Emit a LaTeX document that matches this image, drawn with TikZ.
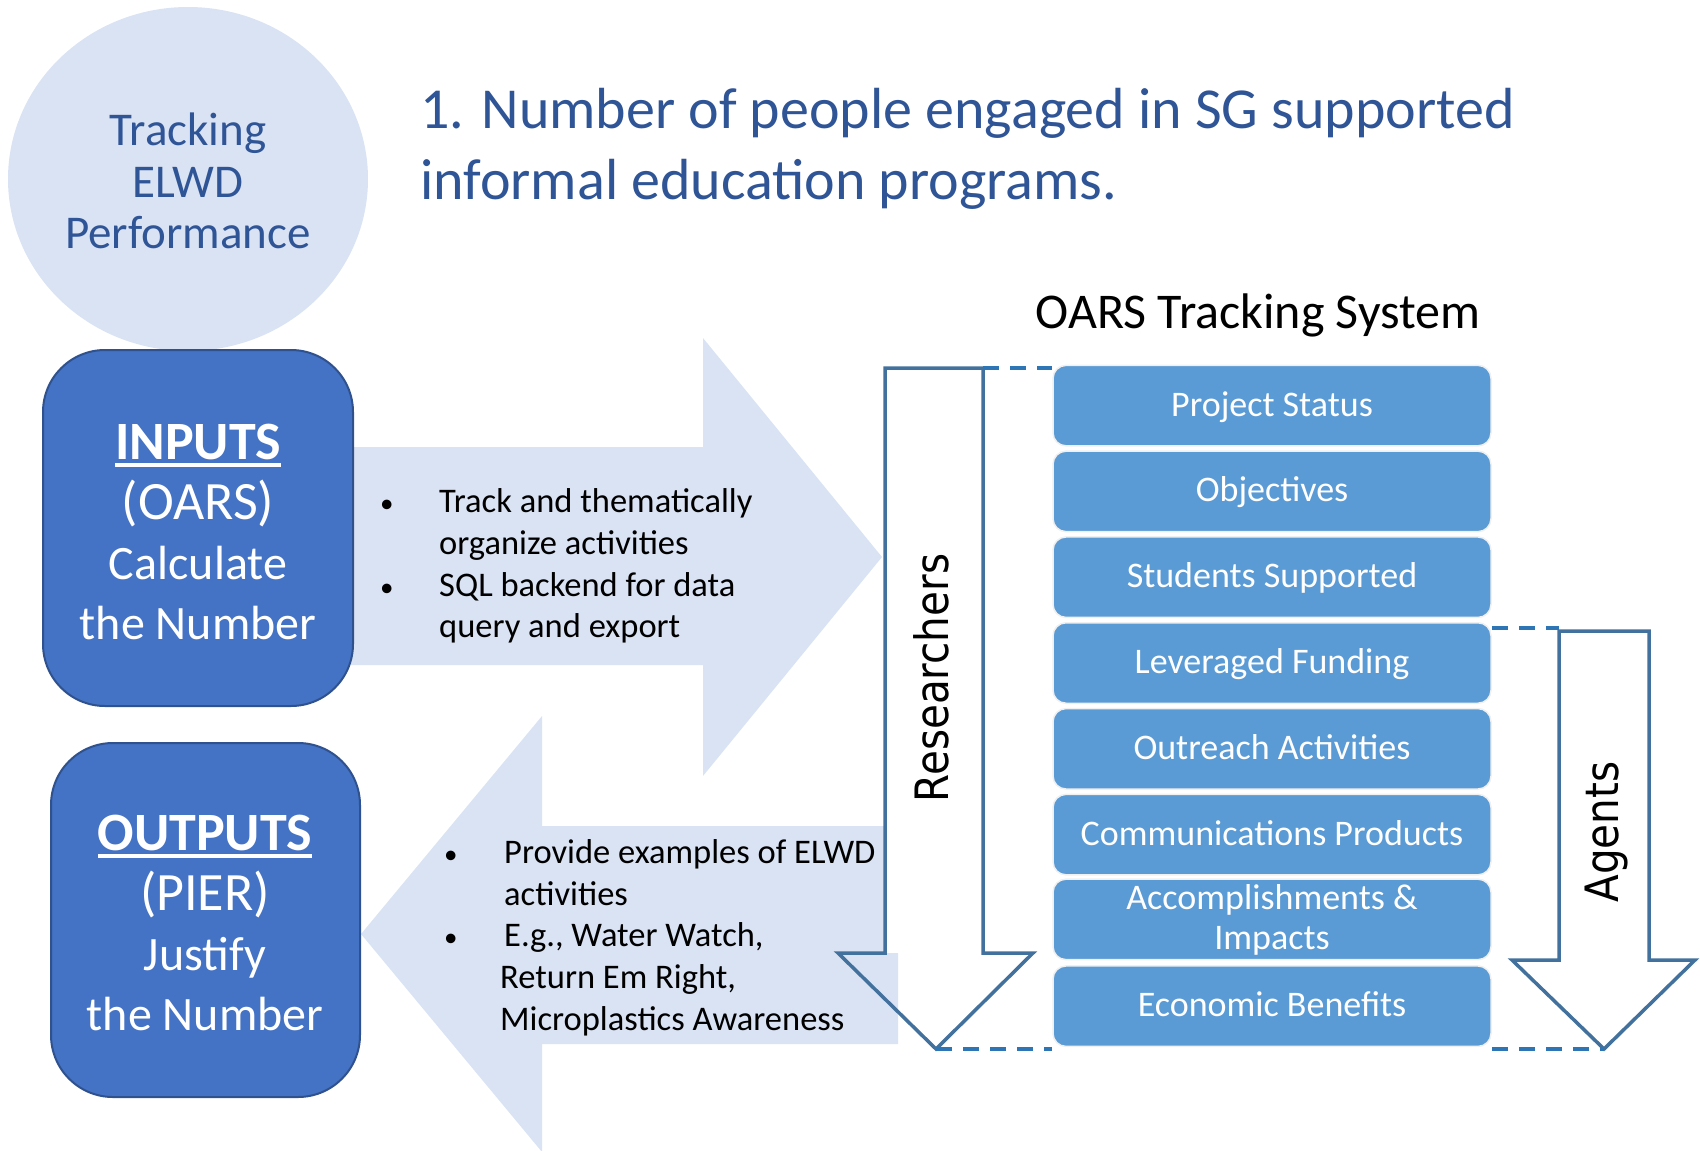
\documentclass[tikz,border=0pt]{standalone}
\usepackage{fontspec}
\setmainfont{Carlito}
\newfontfamily\vertfont[FakeStretch=0.88]{DejaVu Sans}
\definecolor{lightblue}{HTML}{DAE3F3}
\definecolor{titleblue}{HTML}{2F5597}
\definecolor{boxblue}{HTML}{4472C4}
\definecolor{boxedge}{HTML}{2F528F}
\definecolor{stackblue}{HTML}{5B9BD5}
\definecolor{arrowedge}{HTML}{41719C}
\definecolor{dashblue}{HTML}{2E75B6}
\newcommand\fs[2]{\fontsize{#1}{#2}\selectfont}
\newcommand\thickul[1]{\setbox0\hbox{#1}\leavevmode\rlap{\rule[-7pt]{\wd0}{3.5pt}}\box0}
\newcommand\bigline[1]{{\fs{54}{60}#1}}
\newcommand\blt{{\fs{27}{30}•}}
\tikzset{
  bigarrow/.style={fill=lightblue, draw=none},
  mainbox/.style={rounded corners=62pt, fill=boxblue, draw=boxedge, line width=2pt},
  boxtext/.style={text=white, align=center, font=\fs{48}{60}, inner sep=0pt},
  stackbox/.style={rounded corners=13pt, fill=stackblue, draw=white!88!gray, line width=1.5pt,
    minimum width=438pt, minimum height=80.5pt, inner sep=0pt, text=white, font=\fs{36}{40},
    text height=31pt, text depth=10pt, align=center},
  flowarrow/.style={draw=arrowedge, line width=3.5pt, miter limit=10},
  dashlink/.style={draw=dashblue, line width=4pt, dash pattern=on 16pt off 11pt},
  bullettext/.style={anchor=west, inner sep=0pt, font=\fs{34.5}{41.7}, text=black},
  vertlabel/.style={rotate=90, inner sep=0pt, font=\vertfont\fs{46}{50}, text=black}
}
\begin{document}
\begin{tikzpicture}[x=1pt,y=-1pt]
\useasboundingbox (0,0) rectangle (1700,1151);
% circle
\fill[lightblue] (188,179) ellipse [x radius=180, y radius=172];
\node[align=center, text=titleblue, font=\fs{47}{51.5}, inner sep=0pt] (track) at (188,181) {Tracking\\ELWD\\Performance};
% title
\node[anchor=west, align=left, text=titleblue, font=\fs{58}{71}, inner sep=0pt] (title) at (420,149)
  {1. Number of people engaged in SG supported\\informal education programs.};
% big arrows
\fill[bigarrow] (300,447) -- (703,447) -- (703,338) -- (882,557) -- (703,776) -- (703,665) -- (300,665) -- cycle;
\fill[bigarrow] (886,826) -- (542,826) -- (542,716) -- (361,934) -- (542,1152) -- (542,1044) -- (898,1044) -- (898,953) -- (886,953) -- cycle;
% input / output boxes
\draw[mainbox] (43,350) rectangle (353,706);
\node[boxtext] (inputs) at (198,532) {\bigline{\textbf{\thickul{INPUTS}}}\\\bigline{(OARS)}\\Calculate\\the Number};
\draw[mainbox] (51,743) rectangle (360,1097);
\node[boxtext] (outputs) at (205,923) {\bigline{\textbf{\thickul{OUTPUTS}}}\\\bigline{(PIER)}\\Justify\\the Number};
% bullet texts
\node[bullettext] (intext) at (380,567) {\begin{tabular}{@{}l@{}l@{}}
\makebox[59pt][l]{\blt} & Track and thematically\\
 & organize activities\\
\makebox[59pt][l]{\blt} & SQL backend for data\\
 & query and export
\end{tabular}};
\node[bullettext] (outtext) at (444,938.5) {\begin{tabular}{@{}l@{}l@{}}
\makebox[60pt][l]{\blt} & Provide examples of ELWD\\
 & activities\\
\makebox[60pt][l]{\blt} & E.g., Water Watch,\\
 & \hspace{-4pt}Return Em Right,\\
 & \hspace{-4pt}Microplastics Awareness
\end{tabular}};
% OARS stack
\node[anchor=base, font=\fs{50}{56}, inner sep=0pt] (oars) at (1258,328) {OARS Tracking System};
\node[stackbox] (b1) at (1272,405.6) {Project Status};
\node[stackbox] (b2) at (1272,491.4) {Objectives};
\node[stackbox] (b3) at (1272,577.2) {Students Supported};
\node[stackbox] (b4) at (1272,663.0) {Leveraged Funding};
\node[stackbox] (b5) at (1272,748.8) {Outreach Activities};
\node[stackbox] (b6) at (1272,834.6) {Communications Products};
\node[stackbox, text height=, text depth=] (b7) at (1272,919.4) {Accomplishments \&\\Impacts};
\node[stackbox] (b8) at (1272,1006.2) {Economic Benefits};
% Researchers arrow
\draw[flowarrow] (885,368) -- (983,368) -- (983,953) -- (1033,953) -- (936,1049) -- (838,953) -- (885,953) -- cycle;
\node[vertlabel] (res) at (931,678) {Researchers};
% Agents arrow
\draw[flowarrow] (1559,631) -- (1649,631) -- (1649,960) -- (1695,960) -- (1604,1049) -- (1512,960) -- (1559,960) -- cycle;
\node[vertlabel] (agents) at (1606,832) {Agents};
% dashed links
\coordinate (restop) at (983,368);
\coordinate (restip) at (936,1049);
\coordinate (agtop) at (1559,628);
\coordinate (agtip) at (1604,1049);
\draw[dashlink] (restop) -- (restop -| b1.west);
\draw[dashlink] (restip) -- (restip -| b8.west);
\draw[dashlink] (agtop -| b4.east) -- (agtop);
\draw[dashlink] (agtip -| b8.east) -- (agtip);
\end{tikzpicture}
\end{document}
